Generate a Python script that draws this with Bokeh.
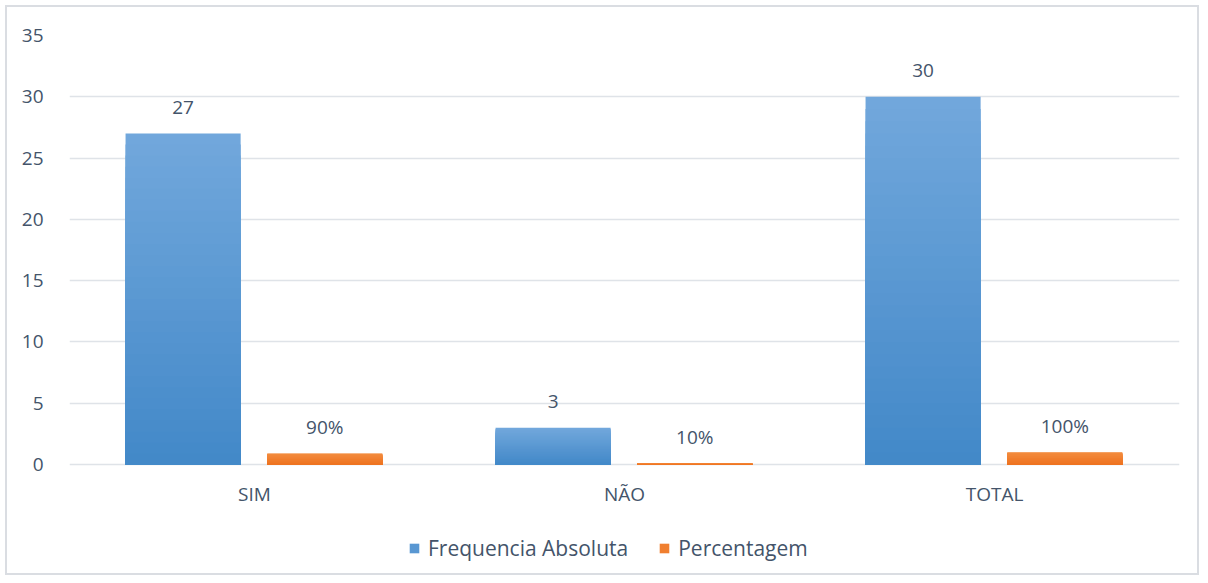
import numpy as np
from bokeh.plotting import figure
from bokeh.models import FactorRange, Range1d, ColumnDataSource, Legend, LegendItem, FixedTicker
from bokeh.transform import dodge
from bokeh.core.properties import value
from bokeh.embed import file_html
from bokeh.resources import INLINE

categories = ["SIM", "NÃO", "TOTAL"]
freq = [27, 3, 30]
pct = [0.9, 0.1, 1.0]
freq_labels = ["27", "3", "30"]
pct_labels = ["90%", "10%", "100%"]
y_ticks = [0, 5, 10, 15, 20, 25, 30, 35]

FONT = "Open Sans"
FS = "19px"
TXT = "#44546a"
GRID = "#dfe3e8"
BLUE_TOP, BLUE_BOT = (0x72, 0xa8, 0xdc), (0x42, 0x88, 0xc8)
ORG_TOP, ORG_BOT = (0xf3, 0x8c, 0x40), (0xee, 0x73, 0x20)
N = 30


def hexc(c):
    return "#%02x%02x%02x" % tuple(int(round(v)) for v in c)


def gradient_source(vals, top_c, bot_c):
    # nested bars from 0: tallest first (top colour), shorter ones drawn over it (darker)
    xs, tops, cols = [], [], []
    for k in range(N):
        frac = (N - k) / N
        t = frac - 0.5 / N
        col = hexc([b + (a - b) * t for a, b in zip(top_c, bot_c)])
        for c, v in zip(categories, vals):
            xs.append(c)
            tops.append(v * frac)
            cols.append(col)
    return ColumnDataSource(dict(x=xs, top=tops, color=cols))


p = figure(x_range=FactorRange(*categories), y_range=Range1d(-8.81, 35),
           width=1194, height=570, output_backend="svg", toolbar_location=None,
           min_border_left=62, min_border_right=22, min_border_top=28, min_border_bottom=5)
p.styles = {"margin": "5px 0 0 5px", "border": "2px solid #dadde2"}
p.outline_line_color = None
p.background_fill_color = "white"
p.border_fill_color = "white"
p.xaxis.visible = False

bsrc = gradient_source(freq, BLUE_TOP, BLUE_BOT)
osrc = gradient_source(pct, ORG_TOP, ORG_BOT)
W = 0.311
rb = p.vbar(x=dodge("x", -0.193, range=p.x_range), bottom=0, top="top", width=W,
            fill_color="color", line_color=None, source=bsrc)
ro = p.vbar(x=dodge("x", 0.19, range=p.x_range), bottom=0, top="top", width=W,
            fill_color="color", line_color=None, source=osrc)

lsrc = ColumnDataSource(dict(x=categories, f=freq, p=pct, fl=freq_labels, pl=pct_labels,
                             zero=[0] * len(categories)))
common = dict(text_font=value(FONT), text_font_size=FS, text_color=TXT,
              text_align="center", text_baseline="alphabetic", y_offset=-26, source=lsrc)
p.text(x=dodge("x", -0.193, range=p.x_range), y="f", text="fl", **common)
p.text(x=dodge("x", 0.19, range=p.x_range), y="p", text="pl", **common)
# category labels under the zero line
p.text(x="x", y="zero", text="x", text_font=value(FONT), text_font_size=FS, text_color=TXT,
       text_align="center", text_baseline="alphabetic", y_offset=29, source=lsrc)

p.ygrid.grid_line_color = GRID
p.ygrid.grid_line_width = 1.5
p.xgrid.grid_line_color = None
p.yaxis.ticker = FixedTicker(ticks=y_ticks)
p.yaxis.axis_line_color = None
p.yaxis.major_tick_line_color = None
p.yaxis.minor_tick_line_color = None
p.yaxis.major_label_standoff = 20
p.yaxis.major_label_text_font = FONT
p.yaxis.major_label_text_font_size = FS
p.yaxis.major_label_text_color = TXT
p.x_range.range_padding = 0
p.x_range.group_padding = 0

legend = Legend(items=[LegendItem(label="Frequencia Absoluta", renderers=[rb], index=(N // 2) * 3),
                       LegendItem(label="Percentagem", renderers=[ro], index=(N // 2) * 3)],
                orientation="horizontal", location=(339, 10),
                label_text_font=FONT, label_text_font_size="21px", label_text_color=TXT,
                glyph_width=12, glyph_height=12, label_standoff=8, spacing=30,
                border_line_color=None, background_fill_alpha=0, margin=0, padding=4)
p.add_layout(legend, "center")

open("out.html", "w").write(file_html(p, INLINE))
